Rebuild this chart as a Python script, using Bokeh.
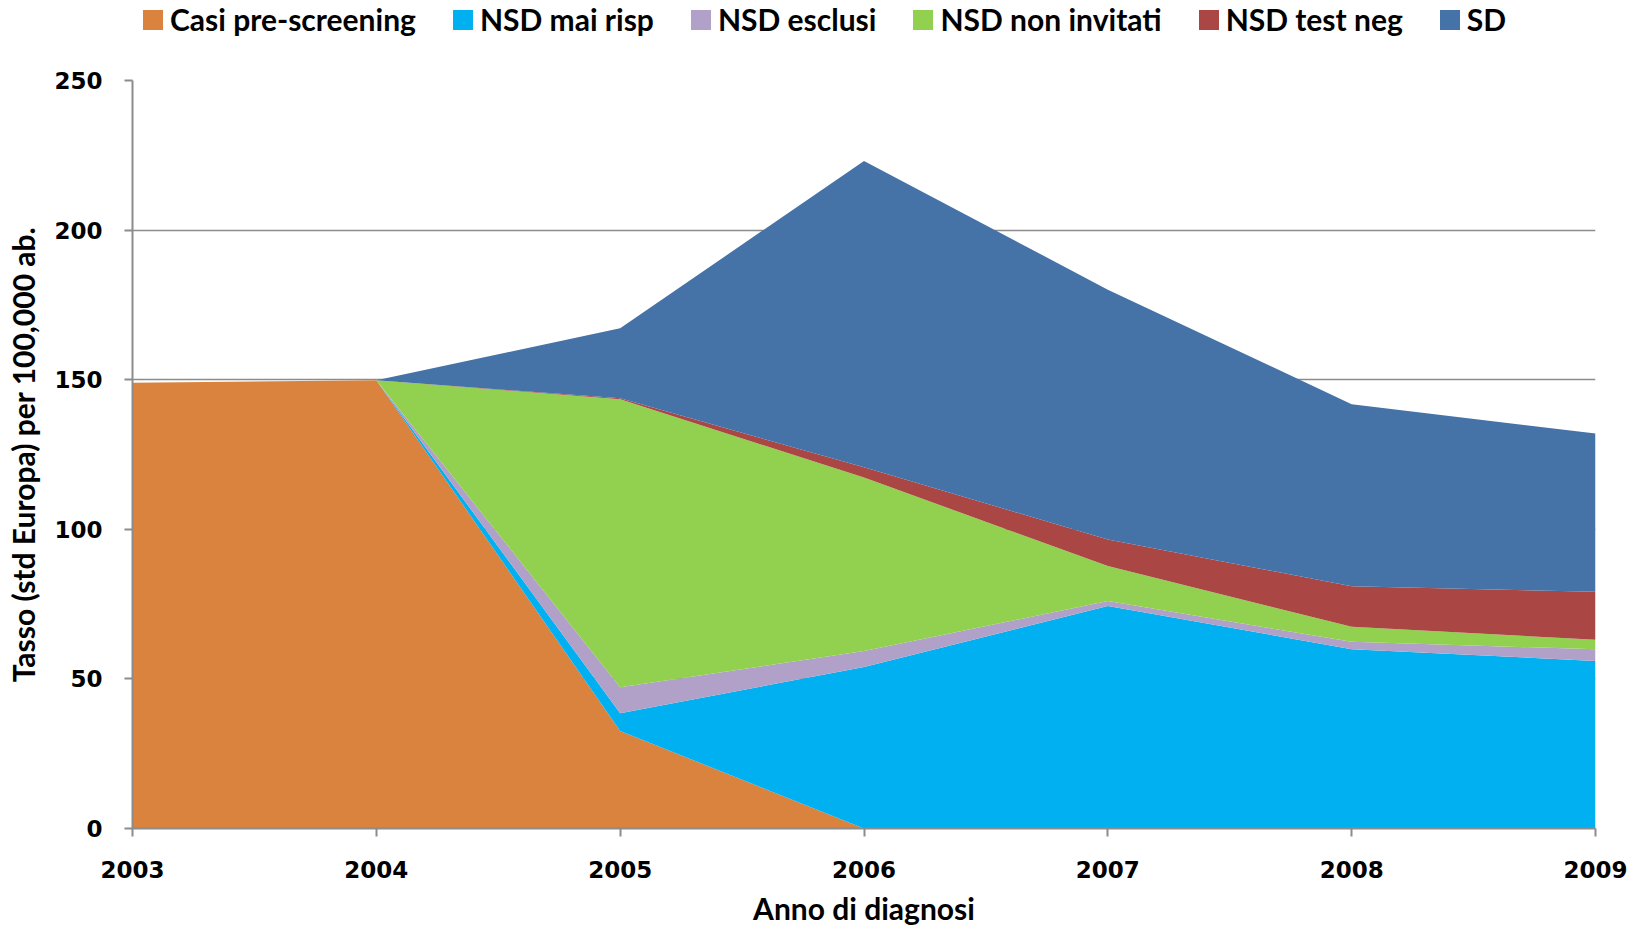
from bokeh.plotting import figure
from bokeh.layouts import column
from bokeh.models import ColumnDataSource, Legend, LegendItem, Range1d
from bokeh.embed import file_html
from bokeh.resources import INLINE

years = [2003, 2004, 2005, 2006, 2007, 2008, 2009]
casi_pre_screening = [149.0, 149.8, 32.6, 0.0, 0.0, 0.0, 0.0]
nsd_mai_risp = [0.0, 0.0, 5.9, 54.0, 74.4, 59.9, 56.0]
nsd_esclusi = [0.0, 0.0, 8.7, 5.3, 1.6, 2.5, 3.9]
nsd_non_invitati = [0.0, 0.0, 96.3, 58.0, 11.7, 5.0, 3.2]
nsd_test_neg = [0.0, 0.0, 0.3, 3.4, 8.9, 13.6, 16.0]
sd = [0.0, 0.0, 23.4, 102.4, 83.5, 60.8, 52.9]

series_names = ["Casi pre-screening", "NSD mai risp", "NSD esclusi",
                "NSD non invitati", "NSD test neg", "SD"]
keys = ["casi", "mai", "escl", "noninv", "testneg", "sd"]
colors = ["#DA833F", "#00B0F0", "#B1A0C7", "#92D050", "#AA4644", "#4572A7"]
y_ticks = [0, 50, 100, 150, 200, 250]

source = ColumnDataSource(dict(
    year=years, casi=casi_pre_screening, mai=nsd_mai_risp, escl=nsd_esclusi,
    noninv=nsd_non_invitati, testneg=nsd_test_neg, sd=sd))

LEFT = 132
FIG_W = 1630

# ---- legend strip (separate figure above the chart) ----
LEG_H = 50
lf = figure(width=FIG_W, height=LEG_H, output_backend="svg", toolbar_location=None,
            x_range=Range1d(0, 1), y_range=Range1d(0, 1),
            min_border_left=LEFT, min_border_right=0, min_border_top=0,
            min_border_bottom=0)
lf.axis.visible = False
lf.grid.grid_line_color = None
lf.outline_line_color = None
# zero-area swatch renderers, used only to give the legend its colour keys
dummies = [lf.varea(x=[0], y1=[0], y2=[0], color=c) for c in colors]
items = [LegendItem(label=n, renderers=[r]) for n, r in zip(series_names, dummies)]
legend = Legend(items=items, orientation="horizontal", location=(8, 13),
                label_text_font="Lato", label_text_font_style="bold",
                label_text_font_size="30px", label_text_color="black",
                glyph_width=25, glyph_height=25, label_standoff=5,
                spacing=34, margin=0, padding=0,
                border_line_color=None, background_fill_alpha=0)
lf.add_layout(legend, "center")

# ---- main chart ----
p = figure(frame_width=1463, frame_height=748, output_backend="svg",
           toolbar_location=None,
           x_range=Range1d(2003, 2009), y_range=Range1d(0, 250),
           min_border_left=LEFT, min_border_right=FIG_W - LEFT - 1463,
           min_border_top=80 - LEG_H, min_border_bottom=60)
p.outline_line_color = None

rends = p.varea_stack(stackers=keys, x="year", color=colors, source=source)
for r in rends:
    r.glyph.fill_alpha = 1.0

gray = "#8C8C8C"
p.xaxis.ticker = years
p.yaxis.ticker = y_ticks
for ax in (p.xaxis[0], p.yaxis[0]):
    ax.axis_line_color = gray
    ax.axis_line_width = 2
    ax.major_tick_line_color = gray
    ax.major_tick_line_width = 2
    ax.major_tick_in = 0
    ax.major_tick_out = 8
    ax.minor_tick_line_color = None
    ax.major_label_text_font = "DejaVu Sans"
    ax.major_label_text_font_style = "bold"
    ax.major_label_text_font_size = "23px"
    ax.major_label_text_color = "black"
    ax.axis_label_text_font = "Lato"
    ax.axis_label_text_font_style = "bold"
    ax.axis_label_text_font_size = "30px"
    ax.axis_label_text_color = "black"
p.yaxis.major_label_standoff = 22
p.xaxis.major_label_standoff = 24
p.xaxis.axis_label = "Anno di diagnosi"
p.yaxis.axis_label = "Tasso (std Europa) per 100,000 ab."
p.xaxis.axis_label_standoff = 9
p.yaxis.axis_label_standoff = 10

p.xgrid.grid_line_color = None
p.ygrid.grid_line_color = gray
p.ygrid.grid_line_width = 1.5

layout = column(lf, p, spacing=0)
open("out.html", "w").write(file_html(layout, INLINE))
